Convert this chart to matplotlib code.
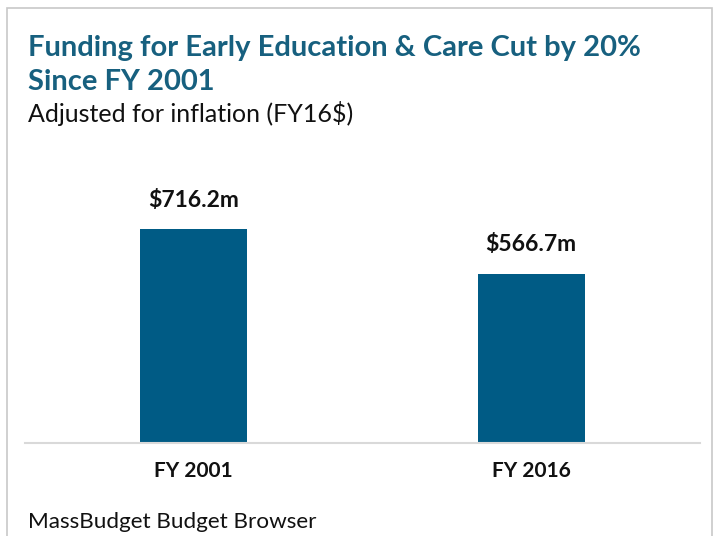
import matplotlib.pyplot as plt
from matplotlib.patches import Rectangle

categories = ["FY 2001", "FY 2016"]
values = [716.2, 566.7]
labels = ["$716.2m", "$566.7m"]

title_lines = ["Funding for Early Education & Care Cut by 20%", "Since FY 2001"]
subtitle = "Adjusted for inflation (FY16$)"
source = "MassBudget Budget Browser"

BAR = "#005B85"
TITLE = "#17607F"

plt.rcParams['font.family'] = ['Lato', 'DejaVu Sans']

fig = plt.figure(figsize=(7.15, 5.36), dpi=100)
W, H = 715, 536

# outer frame
fig.patches.append(Rectangle((7 / W, -0.01), (712 - 7) / W, 1 - 8 / H + 0.01,
                             transform=fig.transFigure, fill=False,
                             edgecolor="#C8C8C8", linewidth=1.2))

ax = fig.add_axes([25 / W, 1 - 443 / H, (700 - 25) / W, (443 - 160) / H])
x = range(len(categories))
ax.bar(x, values, width=0.317, color=BAR)
for xi, v, lab in zip(x, values, labels):
    ax.annotate(lab, (xi, v), xytext=(0, 16), textcoords="offset points",
                ha="center", va="baseline", fontsize=16.5, fontweight="bold",
                color="#111111")

ax.set_xlim(-0.5, 1.5)
ax.set_ylim(0, 947)
ax.set_xticks(list(x))
ax.set_xticklabels(categories, fontsize=15, fontweight="bold", color="#111111")
ax.tick_params(axis="x", length=0, pad=13)
ax.set_yticks([])
for s in ["top", "right", "left"]:
    ax.spines[s].set_visible(False)
ax.spines["bottom"].set_color("#D9D9D9")
ax.spines["bottom"].set_linewidth(1.5)

fig.text(28 / W, 1 - 56 / H, title_lines[0], fontsize=21, fontweight="bold",
         color=TITLE, ha="left", va="baseline")
fig.text(28 / W, 1 - 90 / H, title_lines[1], fontsize=21, fontweight="bold",
         color=TITLE, ha="left", va="baseline")
fig.text(28 / W, 1 - 122 / H, subtitle, fontsize=18, color="#111111",
         ha="left", va="baseline")
fig.text(28 / W, 1 - 528 / H, source, fontsize=16.2, color="#111111",
         ha="left", va="baseline")

fig.savefig("out.png", dpi=100)
